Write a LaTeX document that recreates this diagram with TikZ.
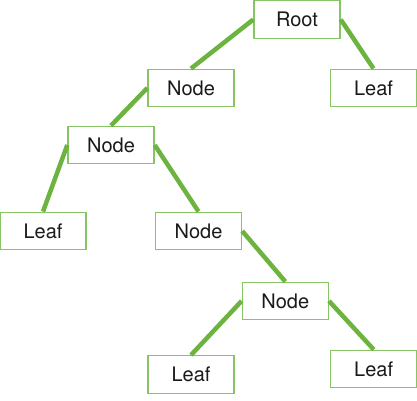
\documentclass[tikz,border=0pt]{standalone}
\usepackage{fontspec}
\setmainfont{TeX Gyre Heros}
\definecolor{edgegreen}{HTML}{6CB43F}
\definecolor{boxgreen}{HTML}{86C466}
\definecolor{txt}{HTML}{1A1A1A}
\begin{document}
\begin{tikzpicture}[x=1pt,y=-1pt,
  treebox/.style={draw=boxgreen,line width=1.4pt,fill=white,minimum width=86pt,minimum height=37.5pt,inner sep=0pt,font=\fontsize{20}{24}\selectfont,text=txt},
  treeedge/.style={draw=edgegreen,line width=4.5pt}]
\useasboundingbox (0,0) rectangle (417,400);
\node[treebox] (root) at (297,19.5) {Root};
\node[treebox] (n1) at (191,88) {Node};
\node[treebox] (lr) at (373.5,88) {Leaf};
\node[treebox] (n2) at (111,145) {Node};
\node[treebox] (ll) at (43,231) {Leaf};
\node[treebox] (n3) at (198.5,231) {Node};
\node[treebox] (n4) at (285.3,301) {Node};
\node[treebox] (lbl) at (191,374.5) {Leaf};
\node[treebox] (lbr) at (373.7,369) {Leaf};
\draw[treeedge] (root.west) -- (n1.north);
\draw[treeedge] (root.east) -- (lr.north);
\draw[treeedge] (n1.west) -- (n2.north);
\draw[treeedge] (n2.west) -- (ll.north);
\draw[treeedge] (n2.east) -- (n3.north);
\draw[treeedge] (n3.east) -- (n4.north);
\draw[treeedge] (n4.west) -- (lbl.north);
\draw[treeedge] (n4.east) -- (lbr.north);
\end{tikzpicture}
\end{document}
